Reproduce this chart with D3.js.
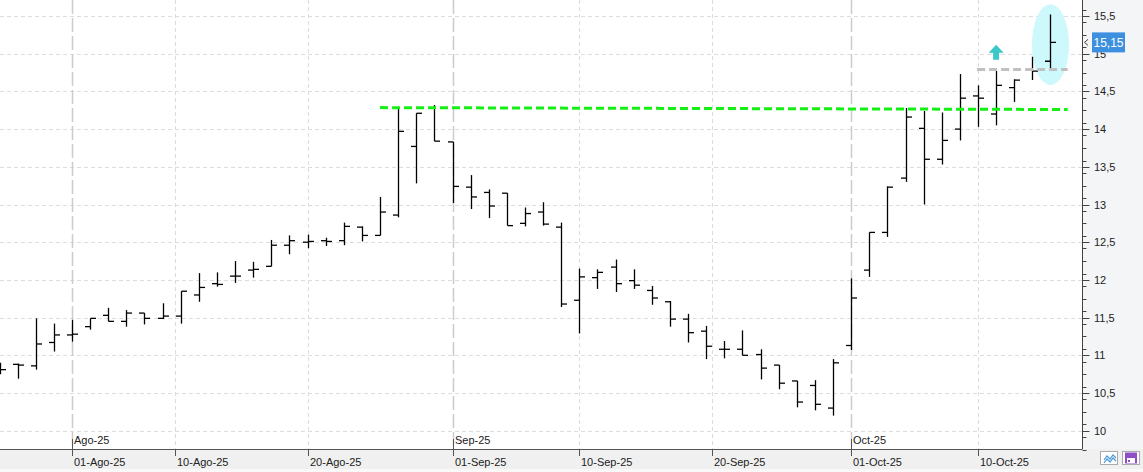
<!DOCTYPE html>
<html>
<head>
<meta charset="utf-8">
<script src="https://cdn.jsdelivr.net/npm/d3@7/dist/d3.min.js"></script>
<style>
  html, body { margin: 0; padding: 0; background: #fff; }
  svg { display: block; font-family: "Liberation Sans", Arial, sans-serif; }
</style>
</head>
<body>
<svg width="1143" height="472"></svg>
<script>
// trading days shown (Jul 28 .. Oct 16, 2025)
var days = ["2025-07-28","2025-07-29","2025-07-30","2025-07-31",
  "2025-08-01","2025-08-04","2025-08-05","2025-08-06","2025-08-07","2025-08-08",
  "2025-08-11","2025-08-12","2025-08-13","2025-08-14","2025-08-15",
  "2025-08-18","2025-08-19","2025-08-20","2025-08-21","2025-08-22",
  "2025-08-25","2025-08-26","2025-08-27","2025-08-28","2025-08-29",
  "2025-09-01","2025-09-02","2025-09-03","2025-09-04","2025-09-05",
  "2025-09-08","2025-09-09","2025-09-10","2025-09-11","2025-09-12",
  "2025-09-15","2025-09-16","2025-09-17","2025-09-18","2025-09-19",
  "2025-09-22","2025-09-23","2025-09-24","2025-09-25","2025-09-26",
  "2025-09-29","2025-09-30","2025-10-01","2025-10-02","2025-10-03",
  "2025-10-06","2025-10-07","2025-10-08","2025-10-09","2025-10-10",
  "2025-10-13","2025-10-14","2025-10-15","2025-10-16"];

var open  = [10.85,10.88,10.86,11.17, 11.27,11.38,11.53,11.45,11.56,11.49,
  11.52,11.80,11.95,12.05,12.13, 12.18,12.46,12.50,12.52,12.52,
  12.70,12.59,12.86,13.77,14.28, 13.83,13.23,13.16,13.15,12.75,
  12.90,12.70,11.73,12.03,12.17, 11.99,11.86,11.71,11.48,11.32,
  11.08,11.08,11.01,10.87,10.66, 10.60,10.30,11.13,12.13,12.63,
  13.35,14.01,13.60,14.00,14.44, 14.20,14.55,14.78,14.90];
var high  = [10.90,10.89,11.49,11.42, 11.47,11.49,11.63,11.60,11.56,11.69,
  11.85,12.09,12.10,12.25,12.24, 12.53,12.59,12.60,12.56,12.76,
  12.71,13.10,14.28,14.21,14.32, 13.83,13.39,13.20,13.15,12.96,
  13.03,12.76,12.15,12.14,12.27, 12.14,11.92,11.72,11.55,11.39,
  11.19,11.33,11.08,10.87,10.66, 10.67,10.95,12.02,12.63,13.24,
  14.28,14.24,14.22,14.73,14.58, 14.77,14.66,14.96,15.52];
var low   = [10.75,10.69,10.81,11.05, 11.18,11.34,11.45,11.38,11.41,11.48,
  11.42,11.71,11.91,11.96,12.03, 12.18,12.34,12.42,12.45,12.46,
  12.51,12.59,12.83,13.28,13.84, 13.02,12.94,12.82,12.72,12.71,
  12.72,11.64,11.29,11.88,11.84, 11.88,11.67,11.38,11.17,10.95,
  10.96,11.00,10.68,10.55,10.31, 10.27,10.20,11.07,12.04,12.57,
  13.30,13.00,13.53,13.85,14.03, 14.05,14.36,14.65,14.78];
var close = [10.81,10.87,11.15,11.27, 11.28,11.49,11.45,11.56,11.49,11.52,
  11.85,11.90,11.94,12.05,12.14, 12.46,12.52,12.51,12.51,12.71,
  12.59,12.90,13.97,14.21,13.84, 13.24,13.10,12.98,12.72,12.88,
  12.74,11.68,12.04,12.10,11.95, 11.93,11.76,11.48,11.30,11.12,
  11.08,11.00,10.83,10.63,10.38, 10.35,10.90,11.76,12.63,13.23,
  14.16,13.60,13.85,14.41,14.41, 14.58,14.65,14.77,15.15];

var yTicks = [10,10.5,11,11.5,12,12.5,13,13.5,14,14.5,15,15.5];
var dayTicks = [
  {date:"2025-08-01", label:"01-Ago-25", month:"Ago-25"},
  {date:"2025-08-10", label:"10-Ago-25"},
  {date:"2025-08-20", label:"20-Ago-25"},
  {date:"2025-09-01", label:"01-Sep-25", month:"Sep-25"},
  {date:"2025-09-10", label:"10-Sep-25"},
  {date:"2025-09-20", label:"20-Sep-25"},
  {date:"2025-10-01", label:"01-Oct-25", month:"Oct-25"},
  {date:"2025-10-10", label:"10-Oct-25"}];

// drawn annotations (trading-day index, price)
var resistance = [{i:17, v:14.285}, {i:54.95, v:14.26}];
var lastHigh   = [{i:49.95, v:14.79}, {i:54.95, v:14.79}];
var highlight  = {i:54, v:15.12};
var upArrow    = {i:51, v:15.12};
var lastPrice  = 15.15;

var svg = d3.select("svg");
var W = 1143, H = 472, plotR = 1082.5, plotB = 449;
var fmt = function(v){ return String(v).replace(".", ","); };

var parse = d3.utcParse("%Y-%m-%d");
var dayT = days.map(parse);
var first = days.indexOf("2025-08-01");

var x = d3.scaleLinear().domain([0, 50]).range([72, 978]);   // index relative to 01-Aug
var y = d3.scaleLinear().domain([10, 15.5]).range([430.7, 16]);

// calendar date -> fractional trading index
function dateIndex(s) {
  var t = parse(s);
  var k = d3.bisectRight(dayT, t) - 1;
  var f = k < dayT.length - 1 ? (t - dayT[k]) / (dayT[k + 1] - dayT[k]) : 0;
  return k + f - first;
}

var bars = days.map(function(d, k) {
  return {i: k - first, o: open[k], h: high[k], l: low[k], c: close[k]};
});

// backgrounds
svg.append("rect").attr("width", W).attr("height", H).attr("fill", "#fff");
svg.append("rect").attr("x", plotR).attr("y", 0).attr("width", W - plotR).attr("height", plotB)
  .attr("fill", "#f4f5f7");
svg.append("rect").attr("x", 0).attr("y", plotB).attr("width", W).attr("height", H - plotB)
  .attr("fill", "#f0f0f0");
svg.append("rect").attr("x", 0).attr("y", 469).attr("width", W).attr("height", 3).attr("fill", "#f9f9f9");

svg.append("clipPath").attr("id", "plot").append("rect")
  .attr("x", 0).attr("y", 0).attr("width", plotR).attr("height", plotB);
var g = svg.append("g").attr("clip-path", "url(#plot)");

// grid
g.selectAll("line.hgrid").data(yTicks).enter().append("line")
  .attr("x1", 0).attr("x2", plotR)
  .attr("y1", function(d){ return Math.round(y(d)) + 0.5; })
  .attr("y2", function(d){ return Math.round(y(d)) + 0.5; })
  .attr("stroke", "#dcdcdc").attr("stroke-dasharray", "4,3");

g.selectAll("line.vgrid").data(dayTicks).enter().append("line")
  .attr("x1", function(d){ return Math.round(x(dateIndex(d.date))) + 0.5; })
  .attr("x2", function(d){ return Math.round(x(dateIndex(d.date))) + 0.5; })
  .attr("y1", 0).attr("y2", plotB)
  .attr("stroke", function(d){ return d.month ? "#cccccc" : "#dcdcdc"; })
  .attr("stroke-width", function(d){ return d.month ? 1.5 : 1; })
  .attr("stroke-dasharray", function(d){ return d.month ? "14,4" : "4,3"; });

// highlight ellipse
g.append("ellipse")
  .attr("cx", x(highlight.i)).attr("cy", y(highlight.v))
  .attr("rx", 18.5).attr("ry", 40.5)
  .attr("fill", "#cdf8fc");

// OHLC bars
var bar = g.append("g").attr("stroke", "#000").attr("stroke-width", 1.3).attr("fill", "none");
bars.forEach(function(d) {
  var px = Math.round(x(d.i)) + 0.5;
  bar.append("line").attr("x1", px).attr("x2", px).attr("y1", y(d.h)).attr("y2", y(d.l));
  bar.append("line").attr("x1", px - 5.5).attr("x2", px).attr("y1", y(d.o)).attr("y2", y(d.o));
  bar.append("line").attr("x1", px).attr("x2", px + 5.5).attr("y1", y(d.c)).attr("y2", y(d.c));
});

// annotation lines
var line = d3.line().x(function(d){ return x(d.i); }).y(function(d){ return y(d.v); });
g.append("path").attr("d", line(resistance)).attr("fill", "none")
  .attr("stroke", "#14f014").attr("stroke-width", 3).attr("stroke-dasharray", "8,4");
g.append("path").attr("d", line(lastHigh)).attr("fill", "none")
  .attr("stroke", "#c0c0c0").attr("stroke-width", 3).attr("stroke-dasharray", "8,4");

// up arrow
var ax = x(upArrow.i), ay = y(upArrow.v);
g.append("path")
  .attr("d", "M" + ax + "," + ay + " l7.5,8 h-4.5 v7 h-6 v-7 h-4.5 z")
  .attr("fill", "#3cc8c8");

// right axis
svg.append("line").attr("x1", plotR).attr("x2", plotR).attr("y1", 0).attr("y2", plotB)
  .attr("stroke", "#444");
var minor = d3.range(9.75, 15.72, 0.5 / 3);
svg.selectAll("line.ymin").data(minor).enter().append("line")
  .attr("x1", plotR).attr("x2", plotR + 4)
  .attr("y1", function(d){ return Math.round(y(d)) + 0.5; })
  .attr("y2", function(d){ return Math.round(y(d)) + 0.5; })
  .attr("stroke", "#444");
svg.selectAll("line.ymaj").data(yTicks).enter().append("line")
  .attr("x1", plotR).attr("x2", plotR + 7)
  .attr("y1", function(d){ return Math.round(y(d)) + 0.5; })
  .attr("y2", function(d){ return Math.round(y(d)) + 0.5; })
  .attr("stroke", "#444");
svg.selectAll("text.ylab").data(yTicks).enter().append("text")
  .attr("x", 1094).attr("y", function(d){ return y(d) + 4; })
  .attr("font-size", 11).attr("fill", "#222")
  .text(fmt);

// last price marker
var ly = y(lastPrice);
svg.append("rect").attr("x", 1092).attr("y", ly - 10).attr("width", 33).attr("height", 20)
  .attr("fill", "#3d8fe0");
svg.append("text").attr("x", 1108.5).attr("y", ly + 4.5).attr("text-anchor", "middle")
  .attr("font-size", 12).attr("fill", "#fff").text(fmt(lastPrice));
svg.append("path").attr("d", "M1088," + (ly - 3) + " l-3.5,3 l3.5,3")
  .attr("fill", "none").attr("stroke", "#444");

// bottom axis
svg.append("line").attr("x1", 0).attr("x2", plotR).attr("y1", plotB + 0.5).attr("y2", plotB + 0.5)
  .attr("stroke", "#555");
dayTicks.forEach(function(d) {
  var px = Math.round(x(dateIndex(d.date))) + 0.5;
  svg.append("line").attr("x1", px).attr("x2", px)
    .attr("y1", d.month ? plotB - 10 : plotB).attr("y2", plotB + 7).attr("stroke", "#555");
  svg.append("text").attr("x", px + 1.5).attr("y", 466)
    .attr("font-size", 11).attr("fill", "#222").text(d.label);
  if (d.month) {
    svg.append("text").attr("x", px + 1.5).attr("y", 444)
      .attr("font-size", 11).attr("fill", "#222").text(d.month);
  }
});

// corner buttons
svg.append("rect").attr("x", 1100.5).attr("y", 451.5).attr("width", 17).attr("height", 13)
  .attr("fill", "#fff").attr("stroke", "#aaa");
svg.append("path").attr("d", "M1104,460 l3,-4 l3,3 l3,-4 l3,3 M1104,463 l3,-4 l3,3 l3,-4 l3,3")
  .attr("fill", "none").attr("stroke", "#4a9ad8").attr("stroke-width", 1.2);
svg.append("rect").attr("x", 1122.5).attr("y", 451.5).attr("width", 17).attr("height", 13)
  .attr("fill", "#fff").attr("stroke", "#aaa");
svg.append("rect").attr("x", 1125).attr("y", 452.5).attr("width", 12).attr("height", 11).attr("fill", "#8e4fc8");
svg.append("rect").attr("x", 1127).attr("y", 458).attr("width", 8).attr("height", 5).attr("fill", "#fff");
svg.append("rect").attr("x", 1128).attr("y", 460).attr("width", 2).attr("height", 2).attr("fill", "#8e4fc8");
</script>
</body>
</html>
